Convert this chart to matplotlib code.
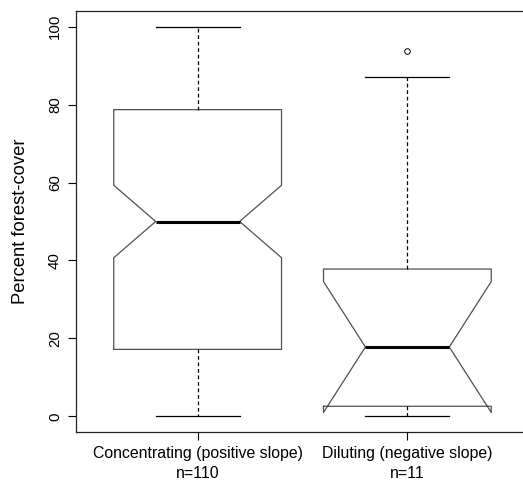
import matplotlib
matplotlib.use("Agg")
import matplotlib.pyplot as plt

categories = ["Concentrating (positive slope)", "Diluting (negative slope)"]
counts = [110, 11]
q1 = [17.2, 2.6]
median = [50.0, 17.8]
q3 = [78.7, 37.8]
whisker_low = [0.0, 0.0]
whisker_high = [100.0, 87.1]
outliers = [[], [93.8]]
notch_low = [40.7, 1.0]
notch_high = [59.3, 34.6]

plt.rcParams['font.family'] = ['Liberation Sans', 'DejaVu Sans']

fig = plt.figure(figsize=(5.23, 4.82), dpi=100)
ax = fig.add_axes([76/523, 50/482, (529-76)/523, 421/482])

stats = []
for i in range(len(categories)):
    stats.append(dict(label=f"{categories[i]}\nn={counts[i]}",
                      q1=q1[i], med=median[i], q3=q3[i],
                      whislo=whisker_low[i], whishi=whisker_high[i],
                      fliers=outliers[i], cilo=notch_low[i], cihi=notch_high[i]))

ax.bxp(stats, positions=[1, 2], widths=0.8, shownotches=True,
       patch_artist=False,
       boxprops=dict(color='#505050', linewidth=0.9),
       medianprops=dict(color='black', linewidth=2.2),
       whiskerprops=dict(color='black', linewidth=0.9, linestyle=(0, (3, 2.2))),
       capprops=dict(color='black', linewidth=0.9),
       capwidths=0.4,
       flierprops=dict(marker='o', markerfacecolor='none', markeredgecolor='black',
                       markersize=4, markeredgewidth=0.7))

ax.set_xlim(0.42, 2.58)
ax.set_ylim(-4, 104)
ax.set_yticks([0, 20, 40, 60, 80, 100])
ax.set_yticklabels(["0", "20", "40", "60", "80", "100"], rotation=90, va='center', fontsize=10.8)
ax.tick_params(axis='both', direction='out', length=6, width=0.8, colors='black')
ax.tick_params(axis='y', pad=4)
ax.tick_params(axis='x', pad=4)
for lbl in ax.get_xticklabels():
    lbl.set_fontsize(11.4)
    lbl.set_linespacing(1.45)
ax.set_ylabel("Percent forest-cover", fontsize=13.2, labelpad=14)
for s in ax.spines.values():
    s.set_linewidth(0.9)
    s.set_color('#222222')

fig.savefig("out.png", dpi=100)
